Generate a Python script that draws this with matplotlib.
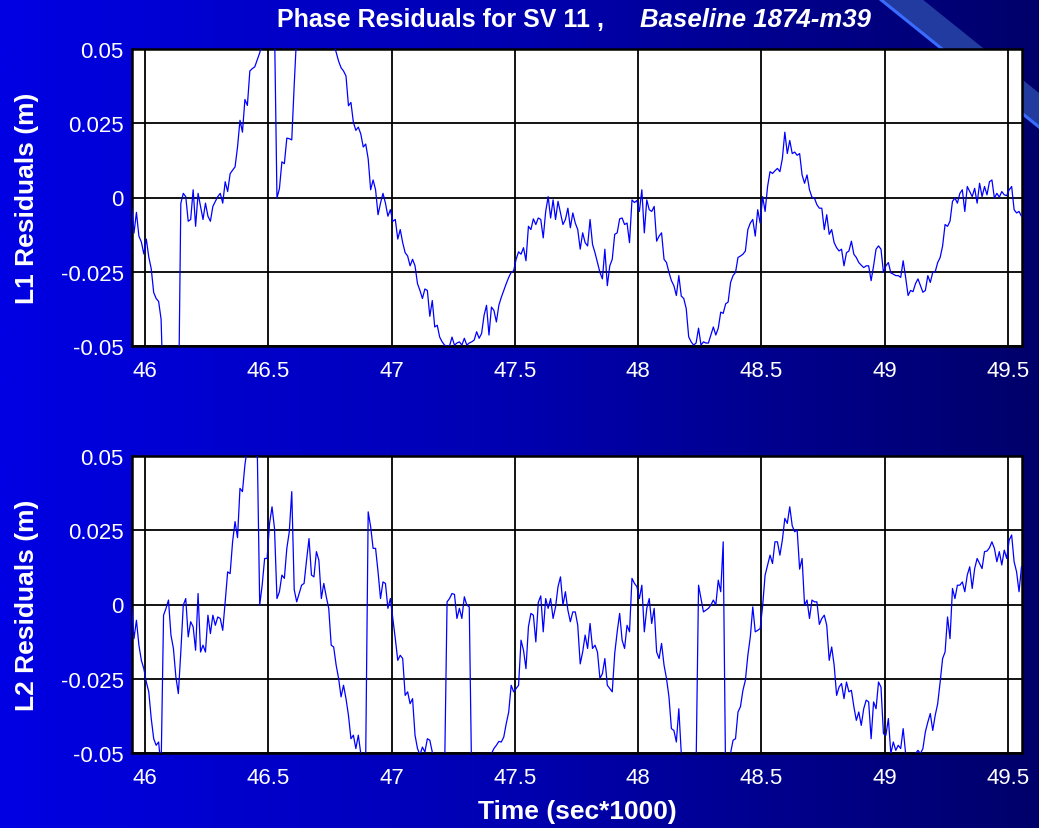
import numpy as np
import matplotlib.pyplot as plt
from matplotlib.colors import LinearSegmentedColormap
from matplotlib.patches import Polygon

plt.rcParams['font.family'] = ['Liberation Sans', 'DejaVu Sans']

# ---- data (residuals in mm, one sample every 0.01 ks starting at 45.945 ks)
t0 = 45.945
dt = 0.01

l1_mm = [
    -3, -12, -5, -13, -15, -19, -14, -20, -24, -32,
    -34, -35, -41, -70, -75, -80, -85, -85, -80, -75,
    -2, 1.4, 0.3, -8, -7.4, 2.6, -9.7, 1.4, -3, -7.4,
    -1.9, -6.3, -8, -3, -1.3, 0.3, 1.4, -1.9, 5.3, 2,
    8, 9.2, 10.3, 17, 26, 22, 33, 31, 42.6, 43.4,
    44, 46.4, 48.7, 52, 58, 62, 65, 62, 58, -0.2,
    3, 12, 11.4, 20, 19.8, 19.4, 38, 55, 60, 65,
    68, 70, 72, 72, 70, 68, 66, 64, 62, 60,
    58, 55, 52, 49, 45.9, 43.7, 42.6, 40.9, 30.9, 32,
    25.3, 22.6, 23.7, 21.4, 17, 18, 13, 2.6, 5.9, 2.6,
    -5.8, -1.9, 1.4, -1.9, -6.3, -4.1, -8, -7.4, -14, -10.8,
    -15.2, -18.6, -19.7, -23, -20.8, -23, -29, -31.3, -34, -30.8,
    -31.3, -40, -34.7, -43.6, -43, -47, -48.6, -49.7, -50.2, -50,
    -47, -49.7, -49, -48.6, -49.7, -47.4, -49.7, -49, -48.6, -48,
    -45.2, -47.4, -45.8, -39.7, -36.3, -46.3, -36.9, -38, -41.9, -36.3,
    -33.6, -31.3, -29, -26.9, -25.2, -24.7, -20.8, -18.3, -19.1, -16.9,
    -21.3, -9.7, -10.8, -7.2, -9.1, -6.9, -7.4, -13.6, -4.7, 0.3,
    -6.9, -0.8, -7.4, -1.3, -5.2, -9.1, -7.4, -3.6, -10.2, -5.2,
    -8.6, -10.8, -17.4, -11.9, -15.2, -16.3, -7.4, -15.8, -18.6, -21.9,
    -25.2, -27.4, -17.4, -29.7, -23, -20.8, -12.4, -11.9, -7.2, -6.9,
    -9.1, -8.6, -15.2, -0.8, -1.7, -1, -4.7, 2.6, -11.9, -0.8,
    -4.1, -4.7, -3, -14.7, -13, -11.9, -20.8, -21.9, -25.2, -28,
    -29.7, -33, -26.3, -33.2, -34, -37.4, -46.9, -48.6, -49.7, -49,
    -44, -49.7, -48.6, -49, -49, -46.3, -43.6, -46.3, -44, -38.6,
    -39, -35.8, -35.2, -28.6, -26.3, -25.2, -20.2, -19.7, -19.1, -18,
    -10.8, -8.6, -7.4, -13, -4.1, -8.6, 0.3, -4.7, 3.7, 8.7,
    8.1, 9, 9.8, 8.7, 13.1, 22, 14.8, 19.2, 14.8, 15.3,
    14.2, 14.8, 7.6, 4.8, 7.6, 2.6, 0.1, -0.2, -2.4, -3.6,
    -3.6, -10.8, -5.8, -12.4, -10.8, -15.2, -16.9, -18, -17.4, -23,
    -18.6, -18, -14.7, -19.1, -20.2, -21.9, -22.8, -23.6, -23, -23,
    -28, -23, -17.4, -16.3, -17.4, -25.2, -23, -21.9, -25.4, -25.8,
    -26.3, -26.3, -26.9, -21.3, -26.9, -33, -31.3, -31.7, -29, -27.4,
    -29.7, -31.9, -31.3, -26.3, -28.6, -25.2, -25, -21.9, -20.2, -16.3,
    -9.1, -9.7, -8, -1.3, -0.2, -1.9, 1.4, 2.6, -4.7, 3.7,
    2, 0.3, 3.1, -1.9, 4.8, 0.3, 3.7, 0.9, 5.3, 5.9,
    -0.2, 1.4, 0.1, 2, 0.9, 0.6, 2.6, 3.7, -4.1, -5.2,
    -4.7, -6.3,
]

l2_mm = [
    -0.2, -11.5, -5.3, -13.7, -18.8, -21.6, -26.1, -29.4, -38.4, -45.2,
    -47.4, -46.3, -55, -3.6, -1.3, 1.5, -10.3, -14.8, -24.4, -30,
    -16, -0.2, 2, -10.9, -5.8, -7.5, -15.4, 3.7, -16, -13.7,
    -16, -3.6, -9.8, -3.6, -7, -4.2, -4.7, -8.7, 0.9, 11,
    10.4, 21.1, 27.9, 22.5, 39.1, 38, 47, 53, 58, 62,
    58, 53, -0.2, 6.5, 15.5, 15.5, 27.3, 32.9, 25.6, 2,
    4.3, 9.9, 8.8, 18.9, 24.5, 38, 5, 0.9, 3.7, 6.5,
    7.1, 14.9, 22.2, 9.9, 9.3, 17.8, 14.9, 2, 7.1, 2.6,
    -1.3, -13.7, -14.3, -20.4, -24.9, -31.1, -27.2, -31.7, -37.3, -45.2,
    -44, -48.5, -44, -50.2, -51, -51, 31.2, 26.2, 18.9, 18.9,
    11, 2, 7.6, 7.1, -1.3, 2, -4.7, -11.5, -18.8, -17.1,
    -18.2, -30.6, -29.4, -33.4, -31.7, -44, -48.5, -50.6, -48, -49.7,
    -45.2, -45.7, -49.7, -53, -55, -56, -57, -56, 0.9, 2,
    3.7, 3.4, -4.7, -1.3, -4.7, 2.6, -0.2, -0.8, -60, -68,
    -70, -72, -70, -68, -65, -60, -50.2, -48.5, -47.4, -46.1,
    -46.3, -44.6, -40.1, -36.2, -27.2, -29.4, -28.3, -27.2, -12, -15.4,
    -21.6, -7.5, -3, -3.6, -12.6, 0.7, 2.9, -9.2, 2, -1.3,
    2, -4.7, -0.8, 6, 9.3, -0.2, 4.3, -1.9, -5.8, -2.5,
    -2.5, -7, -20, -16, -10.3, -14.8, -6.4, -14.8, -13.7, -16,
    -24.9, -23.3, -18.2, -27.2, -28.3, -29.4, -16.5, -9.2, -3, -12,
    -14.8, -7, -9.2, 8.8, 7.1, 6, 2, 6.5, -9.2, -1.3,
    2, -6.4, -1.3, -16, -18.2, -13.1, -20.4, -24.9, -31.1, -41.8,
    -42.4, -46.3, -35.1, -50.2, -55, -58, -60, -60, -58, -55,
    6.5, 2, -2.5, -1.9, -1.3, -0.2, 1.5, -0.2, 8.2, 4.3,
    21.1, -60, -62, -50, -45.7, -45.2, -36.2, -34.4, -28.9, -25.5,
    -17.1, -10.9, -0.8, -9.2, -8.7, -8.1, -0.4, 9.9, 13.3, 16.6,
    13.8, 21.1, 21.1, 16.6, 21.7, 29, 27.3, 32.9, 26.5, 24.5,
    25.1, 11.9, 15.5, -0.2, 1.5, -4.7, 1.5, 0.9, 0.9, -6.7,
    -4.7, -3.6, -7, -18.8, -14.3, -20.4, -30.6, -27.8, -26.6, -31.7,
    -26.1, -29.4, -28.9, -34.4, -39, -36.2, -40.7, -35.1, -32.2, -32.8,
    -45.2, -32.8, -35.1, -26.1, -27.8, -43.5, -44, -38.4, -50.2, -46.3,
    -49.1, -47.4, -48.5, -41.8, -50.2, -53, -55, -54, -50.2, -49.1,
    -50.2, -48.5, -42.9, -39.6, -36.7, -42.4, -37.3, -33.4, -26.1, -18.2,
    -16, -4.2, -11.5, 5.4, 2, 6.5, 6.5, 7.6, 4.3, 9.9,
    12.7, 5.4, 12.1, 15.5, 13.8, 12.1, 17.8, 18, 19.1, 21.1,
    18.9, 14.4, 17.8, 13.3, 18.3, 15.5, 21.7, 23.4, 14.4, 11,
    4.3, 12.7,
]

x_ticks = [46, 46.5, 47, 47.5, 48, 48.5, 49, 49.5]
x_labels = ["46", "46.5", "47", "47.5", "48", "48.5", "49", "49.5"]
y_ticks = [0.05, 0.025, 0, -0.025, -0.05]
y_labels = ["0.05", "0.025", "0", "-0.025", "-0.05"]


W, H = 1039, 829
fig = plt.figure(figsize=(W / 100, H / 100), dpi=100)

# slide background: horizontal blue gradient + decorative stripe
bg = fig.add_axes([0, 0, 1, 1], zorder=-10)
cmap = LinearSegmentedColormap.from_list("bg", ["#0000e4", "#0000b0", "#00006a"])
bg.imshow(np.linspace(0, 1, 512).reshape(1, -1), aspect="auto", cmap=cmap,
          extent=[0, W, H, 0])
bg.set_xlim(0, W)
bg.set_ylim(H, 0)
bg.axis("off")
bg.add_patch(Polygon([(880, 0), (922, 0), (W, 94), (W, 128)], closed=True,
                     facecolor="#2846a8", edgecolor="none", alpha=0.85))
bg.plot([880, W], [0, 128], color="#3a6cff", lw=2.2)


def setup(ax, series, ylabel):
    t = t0 + dt * np.arange(len(series))
    ax.plot(t, np.asarray(series) / 1000.0, color="#0000ff", lw=0.9, zorder=3)
    ax.set_facecolor("white")
    ax.set_xlim(45.947, 49.557)
    ax.set_ylim(-0.05, 0.05)
    ax.set_xticks(x_ticks)
    ax.set_xticklabels(x_labels)
    ax.set_yticks(y_ticks)
    ax.set_yticklabels(y_labels)
    ax.grid(True, color="black", lw=1.3, zorder=1)
    ax.set_axisbelow(True)
    ax.tick_params(colors="white", labelsize=16, length=0, pad=6)
    ax.tick_params(axis="x", pad=10)
    for s in ax.spines.values():
        s.set_color("black")
        s.set_linewidth(1.8)
    ax.set_ylabel(ylabel, color="white", fontsize=19, fontweight="bold")


ax1 = fig.add_axes([132 / W, 1 - 347 / H, 890 / W, 297 / H])
setup(ax1, l1_mm, "L1 Residuals (m)")
ax2 = fig.add_axes([132 / W, 1 - 754 / H, 890 / W, 297 / H])
setup(ax2, l2_mm, "L2 Residuals (m)")
ax1.yaxis.set_label_coords(-93 / 890, 0.5)
ax2.yaxis.set_label_coords(-93 / 890, 0.5)

fig.text(604 / W, 1 - 20 / H, "Phase Residuals for SV 11 ,", color="white",
         fontsize=18, fontweight="bold", ha="right", va="center")
fig.text(640 / W, 1 - 20 / H, "Baseline 1874-m39", color="white",
         fontsize=18.5, fontweight="bold", style="italic", ha="left", va="center")
fig.text(577 / W, 1 - 812 / H, "Time (sec*1000)", color="white",
         fontsize=19, fontweight="bold", ha="center", va="center")

fig.savefig("out.png", dpi=100)
